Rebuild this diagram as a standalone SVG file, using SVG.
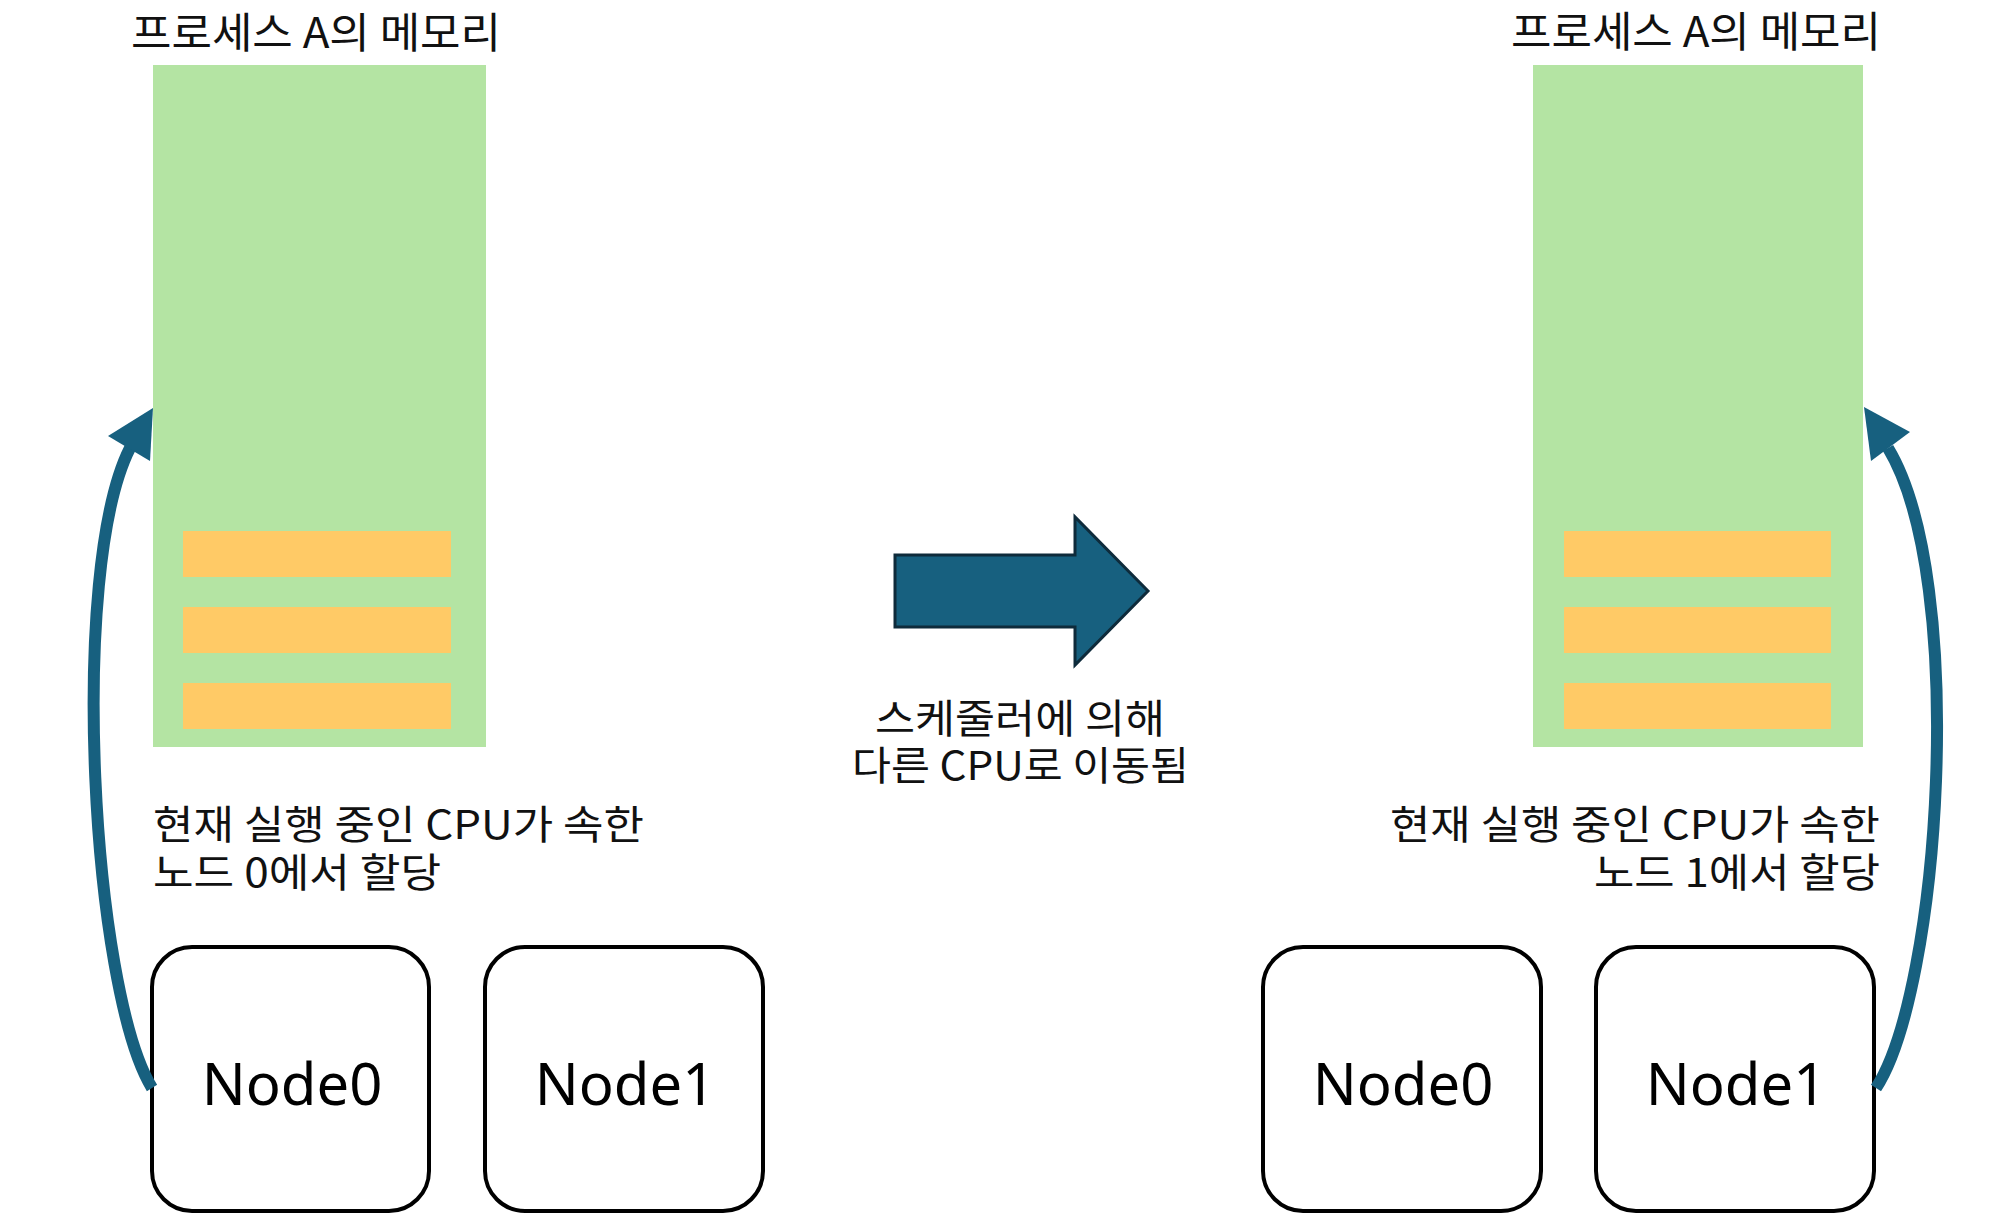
<svg xmlns="http://www.w3.org/2000/svg" width="2000" height="1225" viewBox="0 0 2000 1225">
<style>
.lbl{font-family:"Noto Sans CJK KR","Noto Sans",sans-serif;font-size:40px;fill:#111}
.ttl{font-family:"Noto Sans CJK KR","Noto Sans",sans-serif;font-size:42px;fill:#111}
.mem{fill:#B4E4A3}
.bar{fill:#FFCA66}
.box{fill:#fff;stroke:#000;stroke-width:4}
.nt{font-family:"Noto Sans","Open Sans",sans-serif;font-size:58px;fill:#000;text-anchor:middle}
.conn{fill:none;stroke:#17607F;stroke-width:12}
.head{fill:#17607F}
</style>
<rect width="2000" height="1225" fill="#fff"/>

<g id="mem-left">
  <text class="ttl" x="131" y="48" textLength="370" lengthAdjust="spacingAndGlyphs">프로세스 A의 메모리</text>
  <rect class="mem" x="153" y="65" width="333" height="682"/>
  <rect class="bar" x="183" y="531" width="268" height="46"/>
  <rect class="bar" x="183" y="607" width="268" height="46"/>
  <rect class="bar" x="183" y="683" width="268" height="46"/>
</g>

<g id="mem-right">
  <text class="ttl" x="1511" y="47" textLength="370" lengthAdjust="spacingAndGlyphs">프로세스 A의 메모리</text>
  <rect class="mem" x="1533" y="65" width="330" height="682"/>
  <rect class="bar" x="1564" y="531" width="267" height="46"/>
  <rect class="bar" x="1564" y="607" width="267" height="46"/>
  <rect class="bar" x="1564" y="683" width="267" height="46"/>
</g>

<g id="label-left">
  <text class="lbl" x="153" y="839" textLength="491" lengthAdjust="spacingAndGlyphs">현재 실행 중인 CPU가 속한</text>
  <text class="lbl" x="153" y="887" textLength="288" lengthAdjust="spacingAndGlyphs">노드 0에서 할당</text>
</g>

<g id="label-right">
  <text class="lbl" x="1390" y="839" textLength="490" lengthAdjust="spacingAndGlyphs">현재 실행 중인 CPU가 속한</text>
  <text class="lbl" x="1594" y="887" textLength="286" lengthAdjust="spacingAndGlyphs">노드 1에서 할당</text>
</g>

<g id="migrate">
  <polygon points="895,555 1075,555 1075,517 1148,591 1075,665 1075,627 895,627" fill="#17607F" stroke="#0E2B3B" stroke-width="3" stroke-linejoin="miter"/>
  <text class="lbl" x="875" y="733" textLength="290" lengthAdjust="spacingAndGlyphs">스케줄러에 의해</text>
  <text class="lbl" x="852" y="780" textLength="337" lengthAdjust="spacingAndGlyphs">다른 CPU로 이동됨</text>
</g>

<g id="left-node0">
  <rect class="box" x="152" y="947" width="277" height="264" rx="40" ry="40"/>
  <text class="nt" x="292" y="1105">Node0</text>
</g>
<g id="left-node1">
  <rect class="box" x="485" y="947" width="278" height="264" rx="40" ry="40"/>
  <text class="nt" x="625" y="1105">Node1</text>
</g>
<g id="right-node0">
  <rect class="box" x="1263" y="947" width="278" height="264" rx="40" ry="40"/>
  <text class="nt" x="1403" y="1105">Node0</text>
</g>
<g id="right-node1">
  <rect class="box" x="1596" y="947" width="278" height="264" rx="40" ry="40"/>
  <text class="nt" x="1736" y="1105">Node1</text>
</g>

<g id="connectors">
  <path class="conn" d="M152,1088 C92,990 68,570 130,448"/>
  <polygon class="head" points="153,408 108,436 150,461"/>
  <path class="conn" d="M1876,1088 C1940,990 1968,580 1888,448"/>
  <polygon class="head" points="1864,407 1910,432 1871,461"/>
</g>
</svg>
